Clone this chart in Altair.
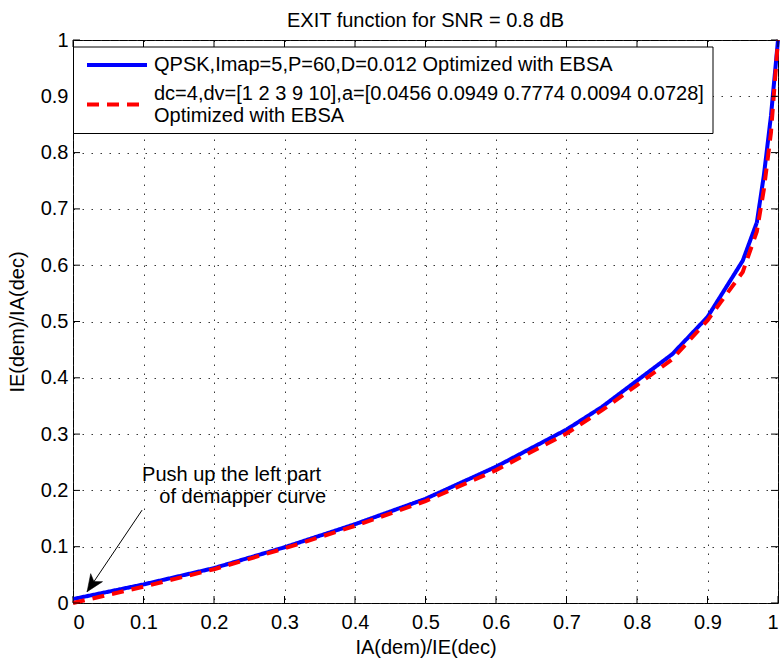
import altair as alt
import pandas as pd

# ---- data ----
x_vals = [0.0, 0.1, 0.2, 0.3, 0.4, 0.5, 0.6, 0.7, 0.75, 0.8, 0.85, 0.9, 0.95, 0.97, 0.98, 0.99, 1.0]
y_qpsk = [0.007, 0.033, 0.062, 0.099, 0.140, 0.185, 0.242, 0.308, 0.348, 0.395, 0.442, 0.508, 0.608, 0.676, 0.760, 0.865, 1.0]
y_ldpc = [0.0, 0.029, 0.060, 0.097, 0.137, 0.181, 0.236, 0.301, 0.342, 0.387, 0.433, 0.502, 0.588, 0.660, 0.735, 0.835, 1.0]

series_names = ["QPSK (EBSA)", "LDPC (EBSA)"]
series_labels = [
    ["QPSK,Imap=5,P=60,D=0.012 Optimized with EBSA"],
    ["dc=4,dv=[1 2 3 9 10],a=[0.0456 0.0949 0.7774 0.0094 0.0728]", "Optimized with EBSA"],
]
series_colors = ["#0000ff", "#ff0000"]
series_dashes = [[1, 0], [12, 8]]

tick_values = [round(i * 0.1, 1) for i in range(11)]

title_text = "EXIT function for SNR = 0.8 dB"
x_title = "IA(dem)/IE(dec)"
y_title = "IE(dem)/IA(dec)"

note_lines = ["Push up the left part", "of demapper curve"]
note_x = [0.098, 0.1225]
note_y = [0.227, 0.188]
arrow_start = (0.098, 0.165)
arrow_tip = (0.020, 0.020)

W, H = 705, 563
FONT = "Liberation Sans"

rows = []
for i, (name, yv_list) in enumerate(zip(series_names, [y_qpsk, y_ldpc])):
    for xv, yv in zip(x_vals, yv_list):
        rows.append({"x": xv, "y": yv, "series": name, "order": i})
df = pd.DataFrame(rows)

xs = alt.Scale(domain=[0, 1], nice=False, zero=False)
ys = alt.Scale(domain=[0, 1], nice=False, zero=False)
color_scale = alt.Scale(domain=series_names, range=series_colors)
dash_scale = alt.Scale(domain=series_names, range=series_dashes)

x_axis = alt.Axis(values=tick_values, format="~g", title=x_title, grid=True,
                  titleX=W / 2, titleY=44, titleBaseline="middle", labelPadding=9)
y_axis = alt.Axis(values=tick_values, format="~g", title=y_title, grid=True,
                  titleX=-56, titleY=H / 2, titleAngle=270, titleBaseline="middle",
                  labelPadding=5)

lines = alt.Chart(df).mark_line(strokeWidth=4).encode(
    x=alt.X("x:Q", scale=xs, axis=x_axis),
    y=alt.Y("y:Q", scale=ys, axis=y_axis),
    color=alt.Color("series:N", scale=color_scale, legend=None),
    strokeDash=alt.StrokeDash("series:N", scale=dash_scale, legend=None),
    order=alt.Order("order:Q"),
    detail="series:N",
)

# inward ticks on all four sides
tdf = pd.DataFrame({"t": tick_values})
tick_len = 7
xt_bottom = alt.Chart(tdf).mark_rule(color="black", strokeWidth=1).encode(
    x=alt.X("t:Q", scale=xs), y=alt.value(H), y2=alt.value(H - tick_len))
xt_top = alt.Chart(tdf).mark_rule(color="black", strokeWidth=1).encode(
    x=alt.X("t:Q", scale=xs), y=alt.value(0), y2=alt.value(tick_len))
yt_left = alt.Chart(tdf).mark_rule(color="black", strokeWidth=1).encode(
    y=alt.Y("t:Q", scale=ys), x=alt.value(0), x2=alt.value(tick_len))
yt_right = alt.Chart(tdf).mark_rule(color="black", strokeWidth=1).encode(
    y=alt.Y("t:Q", scale=ys), x=alt.value(W), x2=alt.value(W - tick_len))

# annotation
ndf = pd.DataFrame({"x": note_x, "y": note_y, "text": note_lines})
notes = alt.Chart(ndf).mark_text(align="left", baseline="middle", fontSize=20, font=FONT,
                                 color="black").encode(
    x=alt.X("x:Q", scale=xs), y=alt.Y("y:Q", scale=ys), text="text:N")

adf = pd.DataFrame({"x0": [arrow_start[0]], "y0": [arrow_start[1]],
                    "x1": [arrow_tip[0]], "y1": [arrow_tip[1]]})
arrow_line = alt.Chart(adf).mark_rule(color="black", strokeWidth=1).encode(
    x=alt.X("x0:Q", scale=xs), y=alt.Y("y0:Q", scale=ys),
    x2="x1:Q", y2="y1:Q")
arrow_head = alt.Chart(adf).mark_point(
    shape="M0,0 L-0.42,1 L0,0.72 L0.42,1 Z", filled=True, fill="black", stroke="black",
    strokeWidth=0.5, opacity=1, size=1156, angle=214).encode(
    x=alt.X("x1:Q", scale=xs), y=alt.Y("y1:Q", scale=ys))

# legend (MATLAB-style box, inside the top-left of the axes)
leg_box_df = pd.DataFrame({"k": [0]})
leg_box = alt.Chart(leg_box_df).mark_rect(fill="white", stroke="black", strokeWidth=1).encode(
    x=alt.value(0.5), x2=alt.value(640), y=alt.value(7), y2=alt.value(93.5))

sym_df = pd.DataFrame({"series": series_names, "idx": list(range(len(series_names)))})
leg_sym = alt.Chart(sym_df).mark_rule(strokeWidth=4).transform_calculate(
    py="datum.idx == 0 ? 25 : 64.5"
).encode(
    x=alt.value(14), x2=alt.value(74),
    y=alt.Y("py:Q", scale=None),
    color=alt.Color("series:N", scale=color_scale, legend=None),
    strokeDash=alt.StrokeDash("series:N", scale=dash_scale, legend=None),
)

lab_rows = []
for i, lines_ in enumerate(series_labels):
    for j, t in enumerate(lines_):
        lab_rows.append({"idx": i, "line": j, "text": t})
lab_df = pd.DataFrame(lab_rows)
leg_lab = alt.Chart(lab_df).mark_text(align="left", baseline="middle", fontSize=20, font=FONT,
                                      color="black").transform_calculate(
    py="datum.idx == 0 ? 25 : 54.3 + 21.4 * datum.line"
).encode(
    x=alt.value(81), y=alt.Y("py:Q", scale=None), text="text:N")

chart = alt.layer(
    lines, xt_bottom, xt_top, yt_left, yt_right, arrow_line, arrow_head, notes,
    leg_box, leg_sym, leg_lab,
).properties(
    width=W, height=H,
    title=alt.TitleParams(title_text, fontSize=20, font=FONT, fontWeight="normal",
                          color="black", offset=11, anchor="middle", dy=12),
    autosize=alt.AutoSizeParams(type="none"),
    padding={"left": 73, "top": 40, "right": 4, "bottom": 56},
    background="white",
).configure_view(
    stroke="black", strokeWidth=1
).configure_axis(
    domain=False, ticks=False, labelFont=FONT, labelFontSize=20, labelColor="black",
    titleFont=FONT, titleFontSize=20, titleColor="black", titleFontWeight="normal",
    gridColor="#222222", gridDash=[1.5, 7.5], gridWidth=1, gridOpacity=0.9,
)

chart.save("out.html", embed_options={"renderer": "svg", "actions": False})
